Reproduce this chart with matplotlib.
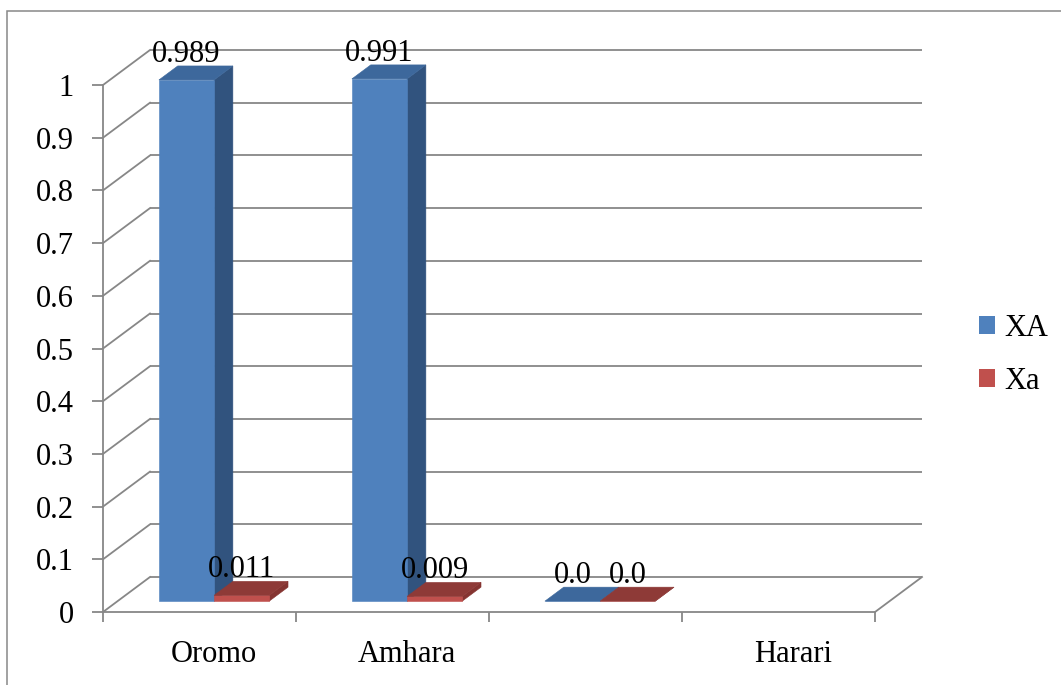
import numpy as np
import matplotlib
matplotlib.use("Agg")
import matplotlib.pyplot as plt
from matplotlib.patches import Polygon, Rectangle, Patch

plt.rcParams['font.family'] = ['Liberation Serif', 'DejaVu Serif']

# ---- data ----
categories = ["Oromo", "Amhara", "", "Harari"]
series_names = ["XA", "Xa"]
xa_values = [0.989, 0.991, 0.0, np.nan]
xa_small_values = [0.011, 0.009, 0.0, np.nan]
value_labels_xa = ["0.989", "0.991", "0.0", ""]
value_labels_xa_small = ["0.011", "0.009", "0.0", ""]
y_ticks = [0, 0.1, 0.2, 0.3, 0.4, 0.5, 0.6, 0.7, 0.8, 0.9, 1.0]
y_tick_labels = ["0", "0.1", "0.2", "0.3", "0.4", "0.5", "0.6", "0.7", "0.8", "0.9", "1"]

# ---- styling ----
FS = 22
GRID = '#878787'
LW = 1.3
front_cols = ['#4F81BD', '#C0504D']
top_cols = ['#3D689C', '#8E3A37']
side_cols = ['#31537E', '#853431']

# depth of the 3-D box in data units (x: categories, y: value)
DX, DY = 0.2435, 0.0664
F_FRONT, F_BACK = 0.31, 0.71   # where the bar row sits inside the depth
GAP = 1.5                      # gap width relative to a bar
W = 1.0 / (2 + GAP)

fig = plt.figure(figsize=(10.61, 6.85), dpi=100)
ax = fig.add_axes([103 / 1061, 73 / 685, 772 / 1061, 527 / 685])
ax.set_xlim(0, len(categories))
ax.set_ylim(0, 1)

for s in ['top', 'right']:
    ax.spines[s].set_visible(False)
for s in ['left', 'bottom']:
    ax.spines[s].set_color(GRID)
    ax.spines[s].set_linewidth(LW)

ax.set_yticks(y_ticks, y_tick_labels)
ax.set_xticks(np.arange(len(categories) + 1))
ax.set_xticklabels([])
ax.tick_params(axis='y', length=8, width=LW, color=GRID, pad=13, labelsize=FS)
ax.tick_params(axis='x', length=7, width=LW, color=GRID)

# category labels sit under the bar row
centers = np.arange(len(categories)) + 0.5 + F_FRONT * DX
ax.set_xticks(centers, categories, minor=True)
ax.tick_params(axis='x', which='minor', length=0, pad=20, labelsize=FS)

# back wall gridlines and side-wall diagonals
nx = len(categories)
for v in y_ticks:
    ax.plot([DX, nx + DX], [v + DY, v + DY], color=GRID, lw=LW,
            clip_on=False, zorder=1, solid_capstyle='butt')
    ax.plot([0, DX], [v, v + DY], color=GRID, lw=LW, clip_on=False, zorder=1)
ax.plot([nx, nx + DX], [0, DY], color=GRID, lw=LW, clip_on=False, zorder=1)


def draw_box(x0, v, k):
    x1 = x0 + W
    fx, fy = F_FRONT * DX, F_FRONT * DY
    bx, by = F_BACK * DX, F_BACK * DY
    front = [(x0 + fx, fy), (x1 + fx, fy), (x1 + fx, v + fy), (x0 + fx, v + fy)]
    top = [(x0 + fx, v + fy), (x1 + fx, v + fy), (x1 + bx, v + by), (x0 + bx, v + by)]
    side = [(x1 + fx, fy), (x1 + bx, by), (x1 + bx, v + by), (x1 + fx, v + fy)]
    for pts, c in ((side, side_cols[k]), (front, front_cols[k]), (top, top_cols[k])):
        ax.add_patch(Polygon(pts, closed=True, facecolor=c, edgecolor=c,
                             lw=0.4, clip_on=False, zorder=3))


all_values = [xa_values, xa_small_values]
all_labels = [value_labels_xa, value_labels_xa_small]
for i in range(nx):
    for k in range(2):
        v = all_values[k][i]
        if np.isnan(v):
            continue
        x0 = i + GAP * W / 2 + k * W
        draw_box(x0, v, k)
        ax.text(x0 + W / 2 + F_FRONT * DX, v + F_BACK * DY + 0.0076,
                all_labels[k][i], ha='center', va='baseline', fontsize=FS,
                zorder=5, clip_on=False)

# legend
handles = [Patch(facecolor=front_cols[k], edgecolor='none', label=series_names[k])
           for k in range(2)]
fig.legend(handles=handles, loc='center left',
           bbox_to_anchor=(979 / 1061, (685 - 355) / 685),
           frameon=False, fontsize=FS, handlelength=0.52, handleheight=0.52,
           handletextpad=0.3, labelspacing=0.8, borderpad=0, borderaxespad=0)

# outer chart border
fig.add_artist(Rectangle((7 / 1061, -0.1), 1.2, (685 - 11) / 685 + 0.1,
                         transform=fig.transFigure, fill=False,
                         edgecolor='#888888', lw=1.1))

fig.savefig("out.png", dpi=100)
